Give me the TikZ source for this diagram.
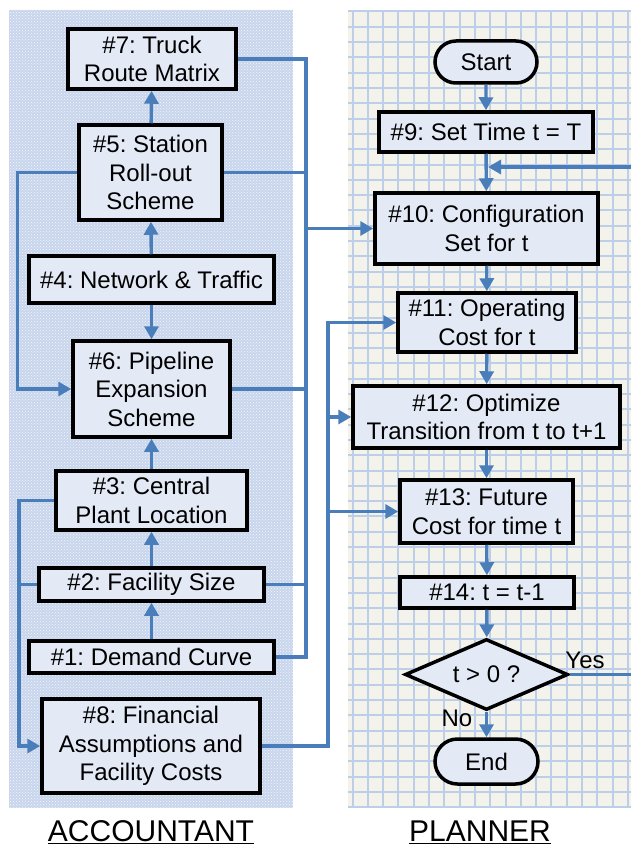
\documentclass[tikz,border=0pt]{standalone}
\usepackage{fontspec}
\setmainfont{Liberation Sans}
\usetikzlibrary{arrows.meta,shapes.geometric,shapes.misc,patterns}
\definecolor{lineblue}{HTML}{4A7EBB}
\definecolor{boxfill}{HTML}{E3EAF6}
\definecolor{leftbg}{HTML}{C8D5EC}
\definecolor{rightbg}{HTML}{F3F3EC}
\definecolor{gridc}{HTML}{BDCFE8}
\frenchspacing
\tikzset{
  box/.style={draw=black, line width=3.5pt, fill=boxfill, inner sep=0pt, align=center,
    font=\fontsize{24}{28.5}\selectfont},
  term/.style={box, rounded rectangle},
  decision/.style={box, diamond, aspect=2.3},
  conn/.style={draw=lineblue, line width=3.4pt},
  arr/.style={conn, -{Triangle[length=13pt,width=14pt]}},
  lab/.style={font=\fontsize{24}{28}\selectfont, inner sep=0pt},
  title/.style={font=\fontsize{30}{34}\selectfont, inner sep=0pt}
}
\begin{document}
\begin{tikzpicture}[x=1pt,y=-1pt]
\useasboundingbox (0,0) rectangle (631,848);
% backgrounds
\fill[leftbg] (9,10) rectangle (293,808);
\path[pattern=crosshatch dots, pattern color=white!80!leftbg] (9,10) rectangle (293,808);
\fill[rightbg] (348,10) rectangle (631,808);
\begin{scope}
\clip (348,10) rectangle (631,808);
\foreach \i in {0,...,18} {\draw[gridc, line width=2pt] (352.5+15.3*\i,10) -- (352.5+15.3*\i,808);}
\foreach \j in {0,...,52} {\draw[gridc, line width=2pt] (348,11.5+15.3*\j) -- (631,11.5+15.3*\j);}
\end{scope}

% left boxes
\node[box, minimum width=168pt, minimum height=60pt] (n7) at (152,59) {\#7: Truck\\Route Matrix};
\node[box, minimum width=143pt, minimum height=95pt] (n5) at (150.5,172.5) {\#5: Station\\Roll-out\\Scheme};
\node[box, minimum width=245pt, minimum height=47pt] (n4) at (151.5,279.5) {\#4: Network \& Traffic};
\node[box, minimum width=157pt, minimum height=96pt] (n6) at (151.5,389) {\#6: Pipeline\\Expansion\\Scheme};
\node[box, minimum width=191pt, minimum height=59pt] (n3) at (151.5,500.5) {\#3: Central\\Plant Location};
\node[box, minimum width=225pt, minimum height=33pt] (n2) at (151.5,584.5) {\#2: Facility Size};
\node[box, minimum width=245pt, minimum height=32pt] (n1) at (151.5,657) {\#1: Demand Curve};
\node[box, minimum width=218pt, minimum height=94pt] (n8) at (151,746) {\#8: Financial\\Assumptions and\\Facility Costs};

% right boxes
\node[term, minimum width=102pt, minimum height=42pt] (start) at (486,62) {Start};
\node[box, minimum width=214pt, minimum height=40pt] (n9) at (486,132) {\#9: Set Time t = T};
\node[box, minimum width=223pt, minimum height=71pt] (n10) at (486.5,228.5) {\#10: Configuration\\Set for t};
\node[box, minimum width=178pt, minimum height=59pt] (n11) at (487,322.5) {\#11: Operating\\Cost for t};
\node[box, minimum width=267pt, minimum height=62pt] (n12) at (486.5,417) {\#12: Optimize\\Transition from t to t+1};
\node[box, minimum width=173pt, minimum height=63pt] (n13) at (486.5,511.5) {\#13: Future\\Cost for time t};
\node[box, minimum width=174pt, minimum height=31pt] (n14) at (487,592.5) {\#14: t = t-1};
\node[decision, minimum width=163pt, minimum height=71pt] (dec) at (486.5,674.5) {t > 0 ?};
\node[term, minimum width=103pt, minimum height=45pt] (end) at (486.5,761.5) {End};

% labels
\node[lab] (yes) at (585,660) {Yes};
\node[lab] (no) at (457,718) {No};
\node[title] (acc) at (151,832) {\underline{ACCOUNTANT}};
\node[title] (pla) at (480,832) {\underline{PLANNER}};

% left vertical arrows
\draw[arr] (n5) -- (n7);
\draw[arr] (n4) -- (n5);
\draw[arr] (n4) -- (n6);
\draw[arr] (n3) -- (n6);
\draw[arr] (n2) -- (n3);
\draw[arr] (n1) -- (n2);

% left side loops
\coordinate (la) at (17.5,172.5);
\coordinate (lb) at (17.5,389);
\draw[arr] (n5.west) -- (la) -- (lb) -- (n6.west);
\coordinate (lc) at (19,500.5);
\coordinate (ld) at (19,746);
\coordinate (le) at (19,584.5);
\draw[arr] (n3.west) -- (lc) -- (ld) -- (n8.west);
\draw[conn] (n2.west) -- (le);

% bus 1 at x=306
\coordinate (b7) at (306,59);
\coordinate (b5) at (306,172.5);
\coordinate (b6) at (306,389);
\coordinate (b2) at (306,584.5);
\coordinate (b1) at (306,657);
\coordinate (b10) at (306,228.5);
\draw[conn] (n7.east) -- (b7) -- (b1) -- (n1.east);
\draw[conn] (n5.east) -- (b5);
\draw[conn] (n6.east) -- (b6);
\draw[conn] (n2.east) -- (b2);
\draw[arr] (b10) -- (n10.west);

% bus 2 at x=328
\coordinate (c8) at (328,746);
\coordinate (c11) at (328,322.5);
\coordinate (c12) at (328,417);
\coordinate (c13) at (328,511.5);
\draw[arr] (n8.east) -- (c8) -- (c11) -- (n11.west);
\draw[arr] (c12) -- (n12.west);
\draw[arr] (c13) -- (n13.west);

% planner flow
\draw[arr] (start) -- (n9);
\draw[arr] (n9) -- (n10);
\draw[arr] (n10) -- (n11);
\draw[arr] (n11) -- (n12);
\draw[arr] (n12) -- (n13);
\draw[arr] (n13) -- (n14);
\draw[arr] (n14) -- (dec);
\draw[arr] (dec) -- (end);

% yes loop
\coordinate (ya) at (636,674.5);
\coordinate (yb) at (636,167);
\coordinate (yc) at (488,167);
\draw[arr] (dec.east) -- (ya) -- (yb) -- (yc);
\end{tikzpicture}
\end{document}
